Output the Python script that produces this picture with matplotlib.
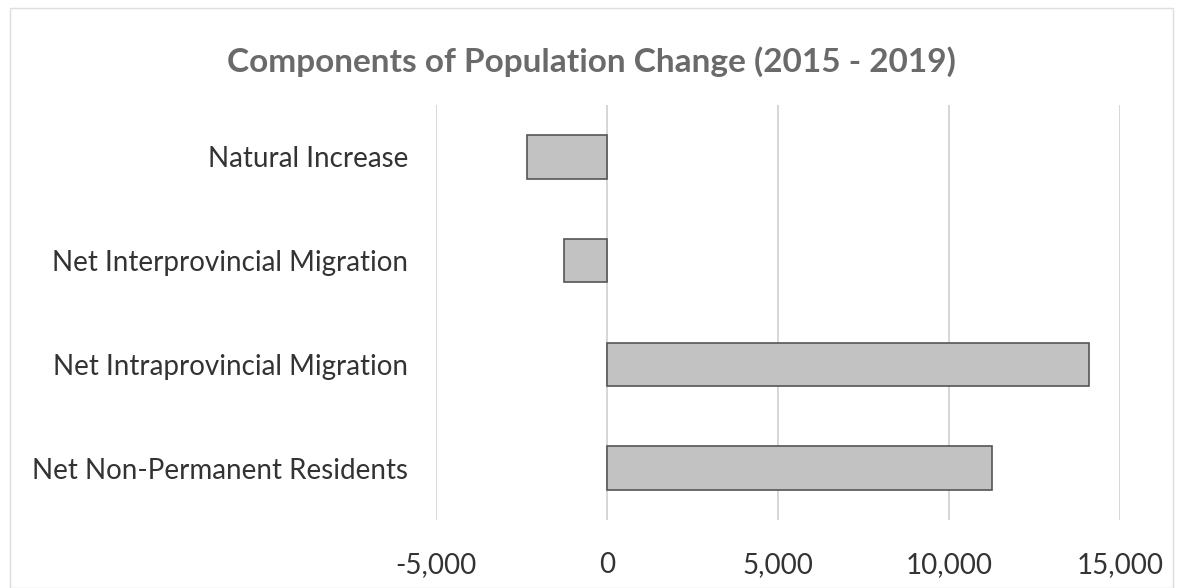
import matplotlib
matplotlib.use("Agg")
import matplotlib.pyplot as plt
from matplotlib.ticker import FuncFormatter
from matplotlib.patches import Rectangle

categories = ["Natural Increase", "Net Interprovincial Migration",
              "Net Intraprovincial Migration", "Net Non-Permanent Residents"]
values = [-2340, -1257, 14094, 11257]
xticks = [-5000, 0, 5000, 10000, 15000]
title = "Components of Population Change (2015 - 2019)"

plt.rcParams['font.family'] = ['Lato', 'DejaVu Sans']

fig = plt.figure(figsize=(11.83, 5.88), dpi=100)
ax = fig.add_axes([436/1183, 1-520/588, (1120-436)/1183, (520-105)/588])

ypos = list(range(len(categories)))
ax.barh(ypos, values, height=0.42, color="#c2c2c2", edgecolor="#555555", linewidth=1.2, zorder=3)
ax.set_yticks(ypos)
ax.set_yticklabels(categories, fontsize=20, color="#333333")
ax.set_ylim(len(categories)-0.5, -0.5)
ax.set_xlim(-5000, 15000)
ax.set_xticks(xticks)
ax.xaxis.set_major_formatter(FuncFormatter(lambda v, p: f"{int(v):,}"))
ax.tick_params(axis='x', labelsize=20, colors="#333333", length=0, pad=23)
ax.tick_params(axis='y', length=0, pad=20)
ax.grid(axis='x', color="#d0d0d0", linewidth=1.2, zorder=0)
for s in ax.spines.values():
    s.set_visible(False)

fig.text(0.5, 1-62/588, title, ha='center', va='center', fontsize=24,
         fontweight='bold', color="#6a6a6a")

fig.patches.append(Rectangle((10/1183, 0.0), 1-20/1183, 1-8/588, transform=fig.transFigure,
                             fill=False, edgecolor="#dddddd", linewidth=1))

fig.savefig("out.png", dpi=100)
